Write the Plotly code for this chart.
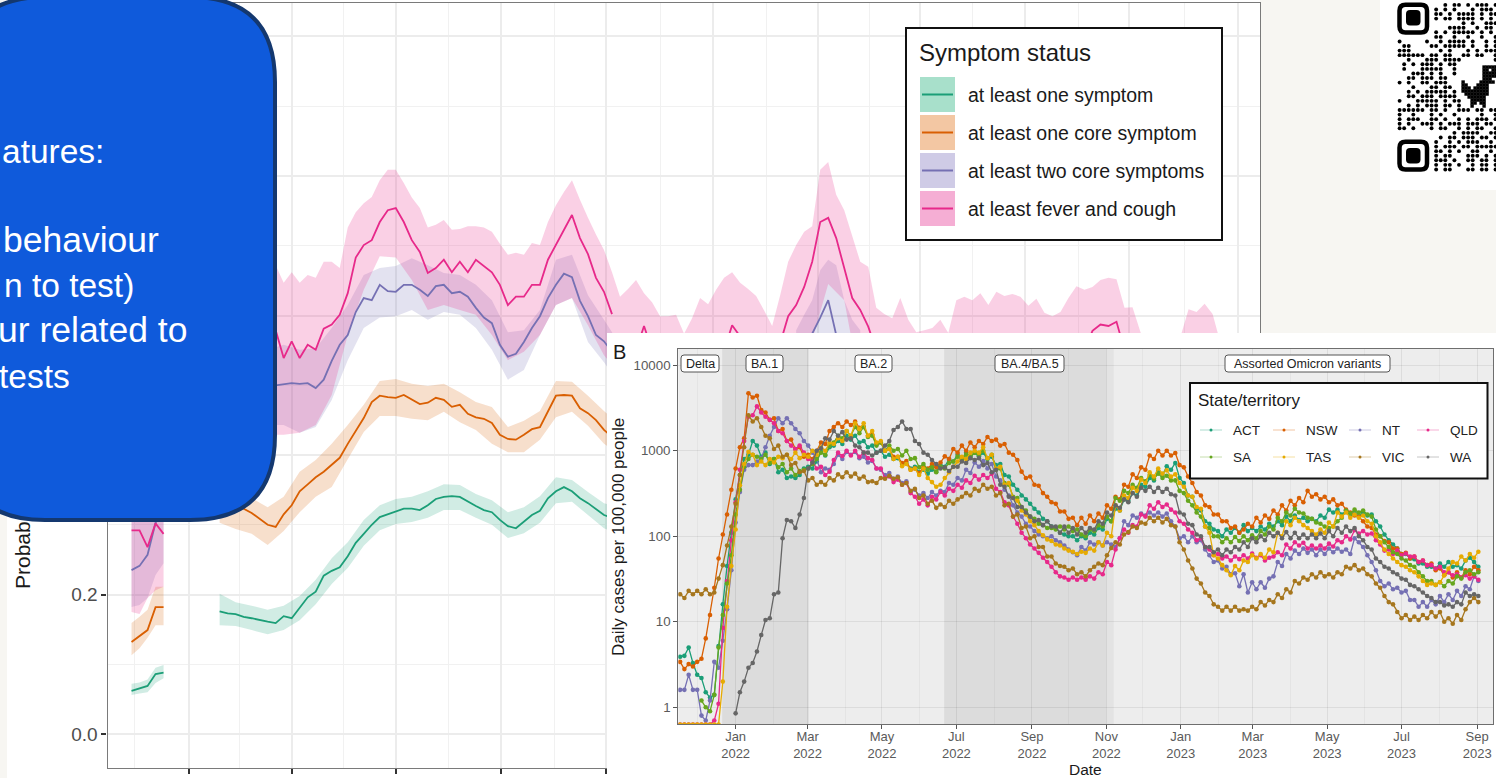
import pandas as pd
import plotly.graph_objects as go

N = None
W, H = 1496, 778
X = lambda px: px / W
Y = lambda py: 1 - py / H

# ---------- Panel A: symptom probabilities (weekly; k = week index) ----------
weeks = pd.date_range("2021-11-12", periods=141, freq="7D")

G_EARLY = [.062, .066, .069, .086, .088]
G_EARLY_HI = [.072, .074, .078, .095, .099]
G_EARLY_LO = [.056, .058, .060, .073, .080]
O_EARLY = [.132, .141, .149, .182, .182]
O_EARLY_HI = [.159, .168, .178, .211, .211]
O_EARLY_LO = [.113, .123, .138, .156, .156]
V_EARLY = [.235, .241, .257, .303, .321]
V_EARLY_HI = [.33, .33, .35, .40, .42]
V_EARLY_LO = [.182, .185, .195, .228, .245]
P_EARLY = [.292, .292, .268, .302, .287]
P_EARLY_HI = [.40, .40, .42, .45, .45]
P_EARLY_LO = [.175, .172, .195, .206, .211]

G_MEAN = [.176, .173, .172, .168, .166, .163, .161, .159, .169, .166, .181, .196, .204, .227, .234, .239, .255,
          .274, .287, .300, .311, .315, .318, .323, .323, .321, .328, .337, .340, .341, .340, .333, .327, .321,
          .318, .307, .298, .295, .305, .314, .320, .338, .348, .354, .348, .338, .331, .323, .314, .310]
G_HI = [.201, .189, .184, .178, .184, .198, .221, .252, .275, .307, .328, .337, .340, .348, .358, .357, .344,
        .335, .318, .325, .341, .368, .364, .347, .331, .325]
G_LO = [.156, .155, .149, .143, .149, .163, .186, .215, .238, .270, .292, .301, .304, .310, .321, .321, .310,
        .300, .281, .288, .303, .331, .333, .314, .295, .285]

O_MEAN = [.335, .331, .327, .323, .317, .308, .300, .297, .315, .328, .348, .358, .368, .376, .386, .396, .416,
          .434, .453, .476, .485, .483, .482, .486, .479, .473, .475, .482, .479, .469, .472, .459, .454, .452,
          .446, .429, .423, .422, .429, .437, .440, .463, .485, .486, .485, .467, .460, .450, .436, .426]
O_HI = [.358, .350, .338, .325, .340, .376, .393, .416, .443, .472, .506, .509, .502, .499, .502, .490, .476,
        .469, .440, .449, .463, .506, .505, .485, .463, .443]
O_LO = [.303, .294, .287, .271, .291, .318, .340, .354, .394, .433, .456, .456, .452, .450, .462, .447, .436,
        .416, .404, .404, .422, .454, .462, .442, .416, .400]

V_MEAN = [.422, .436, .450, .465, .479, .486, .496, .500, .502, .503, .502, .503, .496, .508, .535, .558, .572,
          .605, .625, .622, .644, .635, .634, .644, .644, .637, .628, .642, .644, .632, .634, .627, .611, .597,
          .589, .558, .541, .545, .562, .582, .599, .625, .644, .660, .655, .621, .599, .572, .563, .548]
V_HI = [.493, .508, .529, .551, .558, .551, .553, .582, .615, .658, .668, .671, .682, .672, .661, .658, .644,
        .622, .576, .579, .608, .680, .687, .629, .594, .558]
V_LO = [.379, .400, .422, .443, .443, .432, .440, .479, .536, .582, .597, .599, .608, .594, .605, .601, .582,
        .551, .508, .522, .572, .615, .625, .562, .533, .500]
V_PEAK = [.545, .574, .597, .622, .572, .545]
V_PEAK_HI = [.579, .601, .622, .665, .680, .672, .622, .594, .579]
V_PEAK_LO = [.52, .52, .52, .52, .52, .52, .52, .52, .52]

P_MEAN = [.558, .565, .558, .572, .558, .565, .572, .579, .539, .563, .539, .558, .551, .581, .587, .601, .632,
          .683, .701, .708, .734, .751, .754, .734, .708, .691, .661, .668, .680, .662, .677, .662, .680, .671,
          .662, .644, .615, .627, .627, .644, .644, .680, .701, .723, .744, .711, .688, .654, .634, .602]
P_TAIL_1 = [.572, .55, .55, .585, .55]
P_TAIL_2 = [.55, .586, .57, .55]
P_TAIL_3 = [.56, .599, .615, .641, .677, .734, .740, .711, .668, .625, .608, .584, .55]
P_TAIL_4 = [.55, .578, .587, .585, .591, .55]
P_HI = [.651, .658, .644, .665, .651, .658, .665, .672, .647, .662, .647, .658, .654, .677, .677, .668, .726,
        .748, .761, .770, .794, .809, .809, .790, .769, .754, .726, .730, .737, .723, .724, .728, .728, .726,
        .720, .703, .687, .690, .687, .704, .701, .734, .758, .777, .794, .766, .740, .716, .694, .662,
        .627, .638, .651, .632, .619, .599, .599, .601, .574, .596, .625, .616, .637, .654, .662, .647, .638,
        .628, .607, .585, .629, .677, .701, .720, .728, .809, .820, .773, .751, .714, .677, .670, .611, .602,
        .596, .625, .594, .576, .579, .582, .594, .575, .622, .627, .622, .632, .615, .634, .628, .631, .627,
        .614, .624, .604, .599, .605, .625, .642, .637, .641, .651, .654, .652, .611, .612, .576, .55, .55,
        .55, .55, .57, .609, .605, .617, .602, .56, .55]
P_LO = [.379, .393, .414, .429, .429, .432, .443, .486, .572, .637, .685, .683, .651, .608, .615, .608, .601,
        .572, .536, .548, .572, .615, .625, .586, .543, .515,
        .5, .5, .5, .5, .5, .5, .5, .5, .5, .5, .5, .565, .645, .622,
        .5, .5, .5, .5, .5, .5, .5, .5, .5, .5, .5, .5, .5, .5, .5, .5, .5, .5, .5, .5, .5, .5, .5, .5]

A_MAJOR = ["2022-01-01", "2022-04-01", "2022-07-01", "2022-10-01", "2023-01-01", "2023-04-04", "2023-07-05",
           "2023-10-02", "2024-01-02", "2024-04-02", "2024-07-06"]
A_MINOR = ["2021-11-15", "2022-02-14", "2022-05-16", "2022-08-16", "2022-11-17", "2023-02-17", "2023-05-21",
           "2023-08-19", "2023-11-17", "2024-02-18", "2024-05-20"]
A_YTICKS = [0, .2, .4, .6, .8, 1.0]
A_YTEXT = ["0.0", "0.2", "", "", "", ""]  # the others sit under the blue box
A_YMINOR = [.1, .3, .5, .7, .9]
SYMPTOMS = ["at least one symptom", "at least one core symptom", "at least two core symptoms",
            "at least fever and cough"]
S_LINE = ["#1b9e77", "#d95f02", "#7570b3", "#e7298a"]
S_FILL = ["rgba(27,158,119,.2)", "rgba(217,95,2,.2)", "rgba(117,112,179,.2)", "rgba(231,41,138,.22)"]
S_SWATCH = ["#a8e0cb", "#f3c7a3", "#cfcbe6", "#f5aed4"]

# ---------- Panel B: daily cases per 100,000 (every 3.5 days) ----------
b_dates = pd.date_range("2021-11-16 12:00", periods=188, freq="84h")

ACT = [3.9, 4.0, 5.0, 3.3, 2.4, 2.2, 1.5, 1.3, 1.4, 5.2,
       16, 45, 110, 270, 520, 800, 900, 1300, 1150, 850,
       950, 700, 800, 560, 600, 480, 500, 480, 520, 620,
       650, 620, 750, 970, 880, 1100, 1150, 1300, 1200, 1500,
       1350, 1500, 1250, 1300, 1100, 1150, 950, 1000, 850, 900,
       800, 820, 700, 720, 620, 650, 560, 600, 540, 600,
       570, 680, 650, 800, 750, 900, 800, 950, 850, 950,
       860, 950, 800, 850, 680, 700, 520, 500, 400, 350,
       300, 270, 240, 210, 190, 160, 150, 130, 125, 110,
       105, 100, 100, 90, 100, 95, 110, 105, 125, 120,
       160, 150, 210, 200, 270, 260, 320, 300, 400, 380,
       480, 450, 580, 520, 660, 600, 720, 480, 420, 300,
       290, 210, 200, 150, 140, 120, 115, 100, 120, 110,
       125, 110, 135, 115, 125, 115, 130, 120, 140, 130,
       150, 135, 170, 150, 175, 155, 165, 150, 160, 150,
       175, 165, 205, 190, 205, 180, 200, 175, 190, 170,
       190, 175, 180, 150, 130, 105, 90, 80, 72, 62,
       62, 55, 54, 48, 48, 44, 44, 42, 48, 44,
       50, 44, 46, 42, 52, 56, 50, 44]
NSW = [3.4, 2.8, 3.2, 3.0, 3.4, 3.7, 6.4, 12, 25, 55,
       105, 180, 350, 620, 1100, 1400, 4700, 4200, 4400, 3000,
       2800, 2300, 2400, 1700, 1800, 1300, 1350, 1050, 1100, 850,
       900, 800, 1000, 1250, 1200, 1700, 1900, 2100, 1900, 2200,
       2000, 2200, 1850, 1900, 1500, 1550, 1200, 1250, 1000, 1050,
       850, 850, 720, 760, 600, 620, 550, 640, 620, 700,
       640, 730, 860, 800, 1050, 950, 1150, 1000, 1250, 1100,
       1300, 1200, 1450, 1300, 1350, 1150, 1200, 950, 900, 780,
       570, 480, 500, 400, 390, 320, 290, 250, 240, 195,
       195, 160, 165, 135, 165, 140, 175, 150, 185, 165,
       230, 210, 290, 270, 400, 380, 530, 480, 640, 600,
       880, 800, 1000, 880, 1000, 880, 940, 680, 640, 500,
       420, 330, 300, 230, 220, 180, 180, 150, 150, 125,
       130, 110, 120, 140, 130, 165, 145, 175, 160, 200,
       180, 230, 200, 260, 230, 280, 250, 340, 290, 310,
       270, 290, 250, 270, 230, 240, 205, 190, 175, 170,
       150, 130, 125, 105, 100, 88, 85, 72, 72, 62,
       64, 55, 58, 50, 52, 46, 48, 40, 42, 35,
       38, 33, 38, 33, 40, 36, 44, 40]
NT = [1.6, 1.6, 2.4, 1.6, 1.6, .8, .7, 1.2, 3.4, 2.9,
      6, 14, 40, 145, 330, 600, 680, 680, 750, 820,
      1100, 1500, 1900, 2400, 2100, 2400, 2100, 1800, 1600, 1300,
      1150, 950, 800, 560, 620, 600, 700, 900, 800, 970,
      900, 970, 820, 850, 730, 760, 620, 600, 520, 550,
      470, 500, 420, 440, 330, 350, 300, 320, 280, 330,
      300, 340, 330, 420, 400, 480, 450, 600, 550, 730,
      650, 760, 620, 700, 500, 450, 350, 300, 230, 190,
      170, 140, 130, 115, 105, 100, 95, 100, 90, 85,
      78, 70, 65, 60, 75, 68, 85, 80, 85, 78,
      85, 80, 75, 95, 150, 135, 175, 165, 185, 175,
      190, 175, 190, 170, 185, 150, 130, 95, 100, 85,
      100, 85, 90, 70, 60, 50, 52, 42, 44, 36,
      37, 26, 36, 22, 29, 24, 29, 25, 32, 34,
      50, 45, 62, 55, 68, 62, 72, 64, 70, 60,
      70, 62, 72, 65, 72, 66, 70, 62, 95, 85,
      75, 60, 50, 40, 30, 26, 28, 24, 25, 22,
      23, 18, 18, 15, 17, 15, 18, 16, 20, 17,
      21, 18, 23, 20, 26, 24, 34, 30]
QLD = [.63, .63, .63, .63, .63, .63, .63, .63, .7, 1.1,
       8.5, 30, 90, 250, 600, 1300, 2500, 2600, 3300, 2800,
       2500, 2300, 2100, 1700, 1600, 1300, 1150, 1050, 1150, 950,
       800, 750, 620, 650, 520, 570, 780, 950, 870, 1000,
       880, 1000, 850, 950, 820, 780, 620, 620, 480, 500,
       430, 460, 400, 420, 320, 290, 240, 270, 230, 290,
       270, 330, 300, 360, 340, 400, 370, 450, 420, 510,
       460, 520, 480, 540, 360, 330, 250, 230, 170, 140,
       110, 95, 80, 72, 64, 56, 50, 44, 38, 34,
       33, 31, 33, 31, 33, 31, 34, 32, 38, 36,
       50, 46, 70, 95, 120, 110, 135, 130, 180, 170,
       230, 210, 250, 220, 235, 205, 190, 150, 140, 120,
       110, 90, 95, 75, 70, 60, 62, 55, 58, 52,
       58, 54, 60, 55, 63, 56, 60, 52, 56, 58,
       65, 60, 80, 72, 85, 78, 84, 72, 78, 72,
       78, 72, 82, 76, 90, 85, 100, 92, 118, 108,
       115, 105, 108, 90, 80, 68, 70, 62, 68, 60,
       63, 58, 58, 50, 52, 46, 46, 42, 44, 38,
       38, 35, 36, 33, 35, 32, 34, 31]
SA = [N, N, N, N, N, 1.2, 1.0, .9, 1.4, 5,
      12, 28, 60, 180, 350, 650, 800, 900, 850, 800,
      900, 720, 800, 640, 700, 560, 620, 520, 580, 600,
      620, 700, 800, 950, 900, 1150, 1250, 1500, 1400, 1700,
      1500, 1900, 1600, 1900, 1450, 1500, 1150, 1250, 1000, 1150,
      1000, 1050, 880, 1000, 800, 820, 640, 700, 600, 640,
      560, 650, 620, 720, 750, 850, 780, 900, 850, 950,
      880, 1000, 820, 900, 600, 620, 420, 400, 290, 280,
      220, 200, 170, 160, 140, 135, 125, 125, 120, 130,
      120, 130, 115, 120, 105, 100, 120, 115, 135, 130,
      170, 150, 280, 260, 340, 320, 400, 370, 480, 440,
      520, 470, 540, 480, 510, 450, 450, 340, 320, 260,
      230, 190, 170, 130, 125, 100, 100, 85, 95, 85,
      98, 88, 100, 90, 103, 95, 115, 105, 130, 120,
      165, 150, 190, 175, 210, 190, 185, 165, 160, 145,
      140, 130, 125, 130, 150, 165, 200, 185, 205, 190,
      200, 180, 170, 120, 100, 85, 75, 65, 62, 55,
      52, 46, 44, 38, 34, 30, 30, 27, 29, 26,
      30, 28, 34, 32, 38, 40, 36, 38]
TAS = [.63, .63, .63, .63, .63, .63, .63, .63, .63, .63,
       2, 15, 45, 120, 395, 700, 970, 900, 680, 750,
       680, 800, 730, 850, 820, 900, 800, 950, 820, 900,
       850, 1000, 900, 1100, 1000, 1250, 1200, 1400, 1300, 1700,
       1500, 2100, 1800, 2100, 1500, 1700, 1250, 1300, 1000, 1050,
       800, 850, 660, 700, 600, 620, 520, 620, 480, 430,
       380, 400, 480, 560, 650, 750, 850, 800, 950, 1000,
       950, 1100, 820, 900, 620, 650, 400, 420, 280, 260,
       200, 180, 150, 135, 115, 103, 92, 88, 80, 78,
       72, 68, 66, 62, 66, 64, 72, 68, 85, 78,
       110, 100, 230, 200, 300, 280, 370, 340, 460, 420,
       560, 500, 620, 540, 590, 500, 530, 420, 380, 300,
       290, 220, 210, 130, 110, 60, 55, 46, 40, 35,
       45, 40, 52, 50, 60, 55, 62, 56, 70, 65,
       110, 100, 150, 135, 165, 150, 135, 125, 115, 105,
       120, 110, 145, 130, 190, 170, 190, 165, 180, 165,
       175, 150, 140, 100, 85, 70, 62, 55, 50, 46,
       44, 40, 38, 34, 30, 27, 28, 27, 29, 35,
       42, 50, 48, 58, 52, 62, 56, 66]
VIC = [21, 19, 23, 21, 23, 21, 24, 21, 22, 32,
       46, 78, 130, 240, 520, 1100, 2600, 2200, 2400, 1900,
       1500, 1400, 1050, 1150, 850, 900, 680, 720, 560, 580,
       450, 480, 400, 430, 400, 480, 450, 530, 490, 560,
       500, 540, 470, 500, 430, 440, 420, 480, 470, 510,
       470, 490, 400, 420, 340, 360, 280, 300, 240, 260,
       215, 235, 220, 260, 240, 270, 290, 320, 300, 360,
       340, 400, 360, 380, 300, 320, 230, 240, 170, 180,
       125, 130, 95, 100, 75, 75, 58, 58, 48, 45,
       44, 40, 42, 36, 38, 34, 40, 44, 48, 46,
       60, 73, 85, 80, 105, 112, 130, 125, 145, 140,
       165, 150, 165, 145, 160, 135, 130, 85, 70, 52,
       42, 32, 28, 22, 20, 16, 15, 13.5, 15, 13.5,
       15, 13.5, 14, 13.5, 15, 14, 17, 15.5, 18, 17,
       21, 19, 24, 22, 30, 28, 33, 31, 36, 33,
       38, 34, 36, 33, 38, 36, 44, 42, 46, 40,
       42, 36, 34, 28, 25, 20, 17, 16, 13, 11,
       12, 10.5, 11.5, 10.5, 12, 11, 13, 11.5, 13, 10,
       11, 9.5, 12, 10.5, 14, 17, 19, 17]
WA = [N, N, N, N, N, N, N, N, N, N,
      N, N, N, .85, 1.5, 2.0, 2.9, 3.3, 4.5, 7,
      10.5, 11, 21, 22, 95, 155, 150, 125, 180, 280,
      620, 730, 1000, 1070, 1400, 1350, 1700, 1500, 1650, 1350,
      1400, 1150, 1100, 950, 950, 880, 950, 1000, 1150, 1300,
      1750, 1900, 2200, 1800, 1800, 1300, 1200, 950, 900, 780,
      700, 620, 640, 580, 650, 650, 750, 720, 820, 780,
      820, 680, 720, 560, 600, 400, 380, 290, 280, 220,
      220, 190, 170, 150, 155, 135, 150, 130, 130, 110,
      130, 110, 125, 105, 125, 110, 125, 120, 150, 140,
      190, 175, 230, 215, 270, 250, 320, 290, 370, 340,
      380, 330, 370, 330, 360, 310, 300, 190, 180, 140,
      135, 105, 100, 75, 75, 65, 70, 60, 70, 65,
      75, 70, 85, 75, 95, 85, 100, 90, 110, 100,
      110, 95, 112, 95, 110, 95, 105, 95, 105, 95,
      108, 95, 115, 100, 125, 110, 130, 115, 125, 100,
      90, 75, 70, 55, 50, 44, 42, 38, 36, 32,
      31, 27, 26, 24, 22, 20, 19, 17, 17, 15.5,
      16, 15, 17, 16, 22, 20, 21, 20]
STATES = ["ACT", "NSW", "NT", "QLD", "SA", "TAS", "VIC", "WA"]
STATE_VALUES = [ACT, NSW, NT, QLD, SA, TAS, VIC, WA]
STATE_COLORS = ["#1b9e77", "#d95f02", "#7570b3", "#e7298a", "#66a61e", "#e6ab02", "#a6761d", "#666666"]
for s, v in zip(STATES, STATE_VALUES):
    assert len(v) == 188, (s, len(v))

B_TICKS = ["2022-01-01", "2022-03-01", "2022-05-01", "2022-07-01", "2022-09-01", "2022-11-01", "2023-01-01",
           "2023-03-01", "2023-05-01", "2023-07-01", "2023-09-01"]
B_TEXT = ["Jan<br>2022", "Mar<br>2022", "May<br>2022", "Jul<br>2022", "Sep<br>2022", "Nov<br>2022", "Jan<br>2023",
          "Mar<br>2023", "May<br>2023", "Jul<br>2023", "Sep<br>2023"]
B_MINOR = ["2021-12-01", "2022-02-01", "2022-04-01", "2022-06-01", "2022-08-01", "2022-10-01", "2022-12-01",
           "2023-02-01", "2023-04-01", "2023-06-01", "2023-08-01"]
B_YTICKS = [1, 10, 100, 1000, 10000]
B_YTEXT = ["1", "10", "100", "1000", "10000"]
VARIANTS = ["Delta", "BA.1", "BA.2", "BA.4/BA.5", "Assorted Omicron variants"]
DARK_BANDS = [("2021-12-21", "2022-03-02"), ("2022-06-21", "2022-11-01")]
MID_BANDS = [("2022-11-01", "2022-11-07")]

# ---------- QR code modules that are visible ----------
QR = ["..........#.##.#.###.#",
      "........#.#.#...#.###.",
      "........##.#.####.#.##",
      "........#.##.####.#.#.",
      "..............#.#..###",
      "...........####..#.##.",
      "........#.#.#####.#.#.",
      "........##..#..#..#..#",
      "#.....#..#.####.#..#.#",
      ".##....##.#####.#..#.#",
      "###......#.#...#.#.###",
      "######.##.##..##.##..#",
      "..#...###.####.......#",
      ".#.#.###.#.##.........",
      ".#...#####..#.........",
      "...###.#.#..#.........",
      "..##.###.##...........",
      "#.#..##.###...........",
      "...#...##.##..........",
      "..#.#.#####.#.........",
      "..##.###.####.........",
      "#...#####.#.##........",
      "..#.#.###.##.#........",
      "######.##.#..###.##.##",
      "#..#...#.#..#.....#..#",
      "#.###..##.#..#.#.###.#",
      "#.#..###.#.###.###.##.",
      "##.#...#.##..#.#.##..#",
      "............#.####..##",
      ".........#.##.###.##.#",
      "........#..#.#.###..#.",
      "........#.###.##.#####",
      "........##.#.#..##..#.",
      "........#.##...###.#.#",
      "........###.#..##.##.#",
      "........#.##.#..#.##.#",
      "........#.##...##.##.#"]
DINO = [".......#####",
        ".......##.##",
        ".......#####",
        ".......#####",
        ".......###..",
        "#.....#####.",
        "##...####...",
        "###.#####...",
        "#########...",
        ".########...",
        "..######....",
        "...#####....",
        "...##.##....",
        "...#...#...."]

# ---------- helpers ----------
LINE_W = 1.8


def ribbon(x_hi, hi, x_lo, lo, color):
    return go.Scatter(x=list(x_hi) + list(x_lo)[::-1], y=list(hi) + list(lo)[::-1], fill="toself", mode="none",
                      fillcolor=color, hoverinfo="skip", showlegend=False, xaxis="x", yaxis="y")


def line(xs, ys, color):
    return go.Scatter(x=list(xs), y=list(ys), mode="lines", line=dict(color=color, width=LINE_W), hoverinfo="skip",
                      showlegend=False, xaxis="x", yaxis="y", connectgaps=False)


def rrect(x0, y0, x1, y1, r, fill, border, bw):
    p = (f"M{X(x0 + r)},{Y(y0)} L{X(x1 - r)},{Y(y0)} Q{X(x1)},{Y(y0)} {X(x1)},{Y(y0 + r)} "
         f"L{X(x1)},{Y(y1 - r)} Q{X(x1)},{Y(y1)} {X(x1 - r)},{Y(y1)} L{X(x0 + r)},{Y(y1)} "
         f"Q{X(x0)},{Y(y1)} {X(x0)},{Y(y1 - r)} L{X(x0)},{Y(y0 + r)} Q{X(x0)},{Y(y0)} {X(x0 + r)},{Y(y0)} Z")
    return dict(type="path", path=p, xref="paper", yref="paper", fillcolor=fill, line=dict(color=border, width=bw),
                layer="above")


def rect(x0, y0, x1, y1, fill, border=None, bw=0, layer="above"):
    return dict(type="rect", xref="paper", yref="paper", x0=X(x0), x1=X(x1), y0=Y(y1), y1=Y(y0), fillcolor=fill,
                line=dict(color=border or fill, width=bw), layer=layer)


def text(px, py, t, size, color="#1a1a1a", anchor="left", angle=0):
    return dict(xref="paper", yref="paper", x=X(px), y=Y(py), text=t, showarrow=False, xanchor=anchor, yanchor="middle",
                textangle=angle, font=dict(size=size, color=color), align=anchor)


traces = []
# Panel A ribbons
traces += [ribbon(weeks[:5], G_EARLY_HI, weeks[:5], G_EARLY_LO, S_FILL[0]),
           ribbon(weeks[:5], O_EARLY_HI, weeks[:5], O_EARLY_LO, S_FILL[1]),
           ribbon(weeks[:5], V_EARLY_HI, weeks[:5], V_EARLY_LO, S_FILL[2]),
           ribbon(weeks[:5], P_EARLY_HI, weeks[:5], P_EARLY_LO, S_FILL[3])]
bi = weeks[11:62:2]
traces += [ribbon(bi, G_HI, bi, G_LO, S_FILL[0]),
           ribbon(bi, O_HI, bi, O_LO, S_FILL[1]),
           ribbon(bi, V_HI, bi, V_LO, S_FILL[2]),
           ribbon(weeks[83:92], V_PEAK_HI, weeks[83:92], V_PEAK_LO, S_FILL[2]),
           ribbon(weeks[11:138], P_HI, weeks[11:138:2], P_LO, S_FILL[3])]
assert len(P_HI) == 127 and len(P_LO) == 64, (len(P_HI), len(P_LO))
# Panel A lines
w = weeks[11:61]
traces += [line(weeks[:5], G_EARLY, S_LINE[0]), line(w, G_MEAN, S_LINE[0]),
           line(weeks[:5], O_EARLY, S_LINE[1]), line(w, O_MEAN, S_LINE[1]),
           line(weeks[:5], V_EARLY, S_LINE[2]), line(w, V_MEAN, S_LINE[2]), line(weeks[84:90], V_PEAK, S_LINE[2]),
           line(weeks[:5], P_EARLY, S_LINE[3]), line(w, P_MEAN, S_LINE[3]),
           line(weeks[61:66], P_TAIL_1, S_LINE[3]), line(weeks[74:78], P_TAIL_2, S_LINE[3]),
           line(weeks[81:94], P_TAIL_3, S_LINE[3]), line(weeks[119:125], P_TAIL_4, S_LINE[3])]

# White card that holds panel B, drawn over panel A (its own subplot, later in the stack)
traces.append(go.Scatter(x=[0, 1, 1, 0, 0], y=[0, 0, 1, 1, 0], fill="toself", mode="none", fillcolor="white",
                         hoverinfo="skip", showlegend=False, xaxis="x2", yaxis="y2"))

# Panel B series
for name, vals, col in zip(STATES, STATE_VALUES, STATE_COLORS):
    traces.append(go.Scatter(x=b_dates, y=vals, mode="lines+markers", name=name,
                             line=dict(color=col, width=1.3), marker=dict(color=col, size=4.6),
                             hoverinfo="skip", showlegend=False, xaxis="x3", yaxis="y3"))

# QR modules
qx, qy = [], []
for r, row in enumerate(QR):
    for c, ch in enumerate(row):
        if ch == "#":
            qx.append(c)
            qy.append(r)
traces.append(go.Scatter(x=qx, y=qy, mode="markers", marker=dict(color="black", size=3.9), hoverinfo="skip",
                         showlegend=False, xaxis="x4", yaxis="y4"))
dx, dy = [], []
for r, row in enumerate(DINO):
    for c, ch in enumerate(row):
        if ch == "#":
            dx.append(13.9 + c * 0.656)
            dy.append(13.6 + r * 0.656)
traces.append(go.Scatter(x=dx, y=dy, mode="markers", marker=dict(color="black", size=3.4, symbol="square"),
                         hoverinfo="skip", showlegend=False, xaxis="x4", yaxis="y4"))

shapes = [rect(7, 0, 1260, H, "white", layer="below"),
          rect(1380, 0, 1496, 190, "white", layer="below")]

# Panel B background and variant bands live in its subplot so they stack above the card
BAND_Y0, BAND_Y1 = 0.5, 20000
shapes.append(dict(type="rect", xref="x3", yref="y3", x0="2021-11-01", x1="2023-10-01", y0=BAND_Y0, y1=BAND_Y1,
                   fillcolor="#ededed", line=dict(width=0), layer="below"))
for a, b in DARK_BANDS:
    shapes.append(dict(type="rect", xref="x3", yref="y3", x0=a, x1=b, y0=BAND_Y0, y1=BAND_Y1, fillcolor="#dcdcdc",
                       line=dict(width=0), layer="below"))
for a, b in MID_BANDS:
    shapes.append(dict(type="rect", xref="x3", yref="y3", x0=a, x1=b, y0=BAND_Y0, y1=BAND_Y1, fillcolor="#e3e3e3",
                       line=dict(width=0), layer="below"))

# Blue call-out box
shapes.append(rrect(-40, -3, 275, 520, 85, "#0f5adb", "#14386f", 4))

# Panel A legend
shapes.append(rect(906, 28, 1222, 240, "white", "#111111", 2))
annots = [text(917, 53, "Symptom status", 24)]
for i, (lab, lc, sw) in enumerate(zip(SYMPTOMS, S_LINE, S_SWATCH)):
    y0 = 77 + i * 38
    shapes.append(rect(920, y0, 955, y0 + 35, sw))
    shapes.append(dict(type="line", xref="paper", yref="paper", x0=X(922), x1=X(953), y0=Y(y0 + 17.5), y1=Y(y0 + 17.5),
                       line=dict(color=lc, width=2), layer="above"))
    annots.append(text(966, y0 + 18, lab, 19.5))

# Panel B legend
shapes.append(rect(1190, 383, 1487.5, 478.5, "white", "#111111", 2))
annots.append(text(1196, 400, "State/territory", 17))
cols = [(1200, 1231), (1273, 1304), (1349, 1380), (1417, 1448)]
for i, (name, col) in enumerate(zip(STATES, STATE_COLORS)):
    (lx, tx) = cols[i % 4]
    ly = 430 if i < 4 else 457
    shapes.append(dict(type="line", xref="paper", yref="paper", x0=X(lx), x1=X(lx + 22), y0=Y(ly), y1=Y(ly),
                       line=dict(color=col, width=0.8), opacity=0.45, layer="above"))
    shapes.append(dict(type="circle", xref="paper", yref="paper", x0=X(lx + 9.5), x1=X(lx + 12.5), y0=Y(ly + 1.5),
                       y1=Y(ly - 1.5), fillcolor=col, line=dict(width=0), layer="above"))
    annots.append(text(tx, ly, name, 13.5, "#222222"))

# Variant labels
boxes = [(681, 719), (746, 783), (855, 892), (995, 1064), (1225, 1390)]
for (x0, x1), lab in zip(boxes, VARIANTS):
    shapes.append(rrect(x0, 355, x1, 372, 3, "white", "#555555", 1))
    annots.append(text((x0 + x1) / 2, 363.5, lab, 12.5, "#222222", "center"))

# QR finder patterns
for oy, iy in ((2.6, 10), (139.5, 148)):
    shapes.append(rrect(1399.5, oy + 2.2, 1427, oy + 30, 6, "white", "black", 4.5))
    shapes.append(rrect(1406, iy, 1420.5, iy + 15.5, 4, "black", "black", 0))

# Other text
annots += [text(106, 152, "atures:", 33.5, "white", "right"),
           text(161, 240, "behaviour", 35.5, "white", "right"),
           text(136, 285, "n to test)", 33.5, "white", "right"),
           text(189, 330, "ur related to", 35.5, "white", "right"),
           text(72, 376, "tests", 33.5, "white", "right"),
           text(22, 555, "Probab", 21, "#1a1a1a", "center", -90),
           text(611, 352, "B", 20, "#1a1a1a", "left"),
           text(618, 537, "Daily cases per 100,000 people", 17, "#1a1a1a", "center", -90),
           text(1085, 769, "Date", 15.5, "#1a1a1a", "center")]

GRID_B = "rgba(0,0,0,.07)"
GRID_B_MINOR = "rgba(0,0,0,.035)"
layout = go.Layout(
    width=W, height=H, autosize=False, margin=dict(l=0, r=0, t=0, b=0),
    paper_bgcolor="#f7f6f2", plot_bgcolor="rgba(0,0,0,0)",
    font=dict(family="Liberation Sans, Arial, sans-serif"),
    showlegend=False, shapes=shapes, annotations=annots,
    xaxis=dict(domain=[X(107.5), X(1259.5)], anchor="y", type="date", range=["2021-10-22", "2024-07-25"],
               tickvals=A_MAJOR, showticklabels=False, ticks="outside", ticklen=5, tickwidth=1.5, tickcolor="#333333",
               showgrid=True, gridcolor="#ececec", gridwidth=2,
               minor=dict(tickvals=A_MINOR, showgrid=True, gridcolor="#f1f1f1", gridwidth=1.2, ticks=""),
               showline=True, linecolor="#7a7a7a", linewidth=1.2, mirror=True, zeroline=False),
    yaxis=dict(domain=[Y(768), Y(3)], anchor="x", range=[-.0487, 1.048], tickvals=A_YTICKS, ticktext=A_YTEXT,
               ticks="outside", ticklen=5, tickwidth=1.5, tickcolor="#333333", tickfont=dict(size=19, color="#4d4d4d"),
               showgrid=True, gridcolor="#ececec", gridwidth=2,
               minor=dict(tickvals=A_YMINOR, showgrid=True, gridcolor="#f1f1f1", gridwidth=1.2, ticks=""),
               showline=True, linecolor="#7a7a7a", linewidth=1.2, mirror=True, zeroline=False),
    xaxis2=dict(domain=[X(607), 1], anchor="y2", range=[0, 1], visible=False),
    yaxis2=dict(domain=[0, Y(333)], anchor="x2", range=[0, 1], visible=False),
    xaxis3=dict(domain=[X(678.3), X(1493)], anchor="y3", type="date", range=["2021-11-15", "2023-09-14"],
                tickvals=B_TICKS, ticktext=B_TEXT, tickangle=0, ticks="outside", ticklen=4, tickcolor="#555555",
                tickfont=dict(size=13, color="#5a5a5a"), ticklabelstandoff=-4, showgrid=True, gridcolor=GRID_B,
                gridwidth=1, minor=dict(tickvals=B_MINOR, showgrid=True, gridcolor=GRID_B_MINOR, gridwidth=1, ticks=""),
                showline=True, linecolor="#6e6e6e", linewidth=1.2, mirror=True, zeroline=False),
    yaxis3=dict(domain=[Y(724), Y(349)], anchor="x3", type="log", range=[-.195, 4.19], tickvals=B_YTICKS,
                ticktext=B_YTEXT, ticks="outside", ticklen=4, tickcolor="#555555",
                tickfont=dict(size=13.3, color="#5a5a5a"), showgrid=True, gridcolor=GRID_B, gridwidth=1,
                showline=True, linecolor="#6e6e6e", linewidth=1.2, mirror=True, zeroline=False),
    xaxis4=dict(domain=[X(1380), 1], anchor="y4", range=[-4.29, 21.1], visible=False),
    yaxis4=dict(domain=[Y(190), 1], anchor="x4", range=[40.5, -1.07], visible=False),
)

fig = go.Figure(data=traces, layout=layout)
fig.write_html("out.html", config=dict(displayModeBar=False),
               post_script="document.body.style.margin='0';document.documentElement.style.overflow='hidden';")
